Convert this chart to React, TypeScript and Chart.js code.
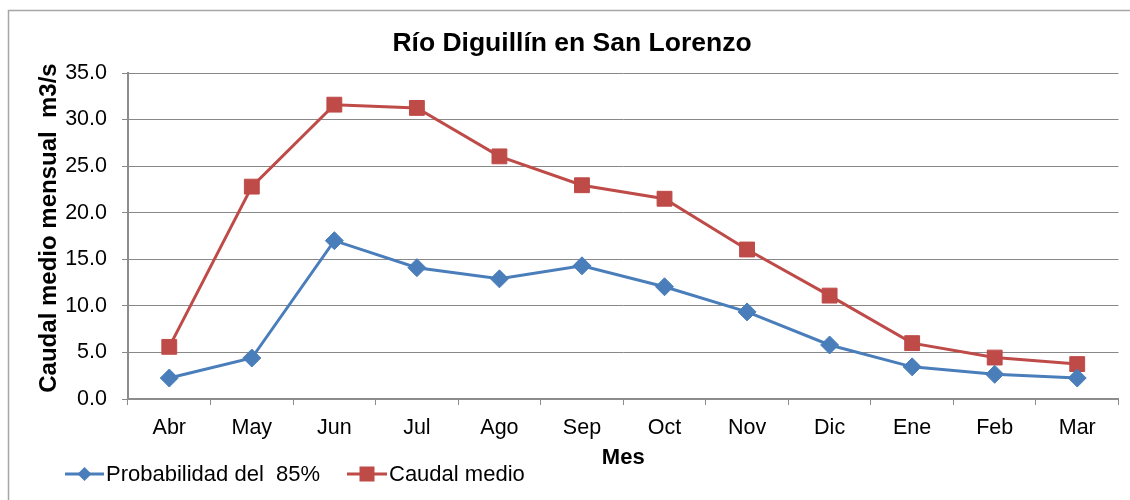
import React, { useEffect, useRef } from "react";
import { Chart, registerables } from "chart.js";

Chart.register(...registerables);

const categories = ["Abr", "May", "Jun", "Jul", "Ago", "Sep", "Oct", "Nov", "Dic", "Ene", "Feb", "Mar"];
const probabilidad85 = [2.25, 4.4, 17.0, 14.1, 12.9, 14.3, 12.05, 9.35, 5.8, 3.45, 2.65, 2.25];
const caudalMedio = [5.6, 22.8, 31.6, 31.25, 26.05, 22.95, 21.5, 16.05, 11.1, 6.0, 4.45, 3.75];
const yTicks = [0, 5, 10, 15, 20, 25, 30, 35];

const chartTitle = "Río Diguillín en San Lorenzo";
const yTitle = "Caudal medio mensual  m3/s";
const xTitle = "Mes";
const seriesNames = ["Probabilidad del  85%", "Caudal medio"];

const BLUE = "#4A7EBB";
const RED = "#BE4B48";
const FONT = "'Liberation Sans', Arial, sans-serif";

const decorPlugin = {
  id: "decor",
  afterDraw(chart: any) {
    const ctx = chart.ctx as CanvasRenderingContext2D;
    ctx.save();
    // outer frame
    ctx.strokeStyle = "#A6A6A6";
    ctx.lineWidth = 1.5;
    ctx.beginPath();
    ctx.moveTo(8.5, 600);
    ctx.lineTo(8.5, 10.5);
    ctx.lineTo(1200, 10.5);
    ctx.stroke();

    ctx.fillStyle = "#000";
    // title
    ctx.font = `bold 26.5px ${FONT}`;
    ctx.textAlign = "center";
    ctx.textBaseline = "alphabetic";
    ctx.fillText(chartTitle, 572, 51);

    // x title
    ctx.font = `bold 22px ${FONT}`;
    const ca = chart.chartArea;
    ctx.fillText(xTitle, (ca.left + ca.right) / 2, 464);

    // y title
    ctx.save();
    ctx.translate(56, (63 + 393) / 2);
    ctx.rotate(-Math.PI / 2);
    ctx.font = `bold 24px ${FONT}`;
    ctx.textAlign = "center";
    ctx.fillText(yTitle, 0, 0);
    ctx.restore();

    // legend
    const drawEntry = (x1: number, x2: number, color: string, shape: string, text: string) => {
      const y = 474;
      ctx.strokeStyle = color;
      ctx.lineWidth = 3;
      ctx.beginPath();
      ctx.moveTo(x1, y);
      ctx.lineTo(x2, y);
      ctx.stroke();
      ctx.fillStyle = color;
      const cx = (x1 + x2) / 2;
      ctx.beginPath();
      if (shape === "diamond") {
        const s = 7;
        ctx.moveTo(cx - s, y);
        ctx.lineTo(cx, y - s);
        ctx.lineTo(cx + s, y);
        ctx.lineTo(cx, y + s);
        ctx.closePath();
      } else {
        const s = 7.5;
        ctx.rect(cx - s, y - s, 2 * s, 2 * s);
      }
      ctx.fill();
      ctx.fillStyle = "#000";
      ctx.font = `22px ${FONT}`;
      ctx.textAlign = "left";
      ctx.fillText(text, x2 + 2, 481);
    };
    drawEntry(65, 104, BLUE, "diamond", seriesNames[0]);
    drawEntry(347, 387, RED, "square", seriesNames[1]);
    ctx.restore();
  },
};

export default function App() {
  const ref = useRef<HTMLCanvasElement | null>(null);
  useEffect(() => {
    if (!ref.current) return;
    const chart = new Chart(ref.current, {
      type: "line",
      data: {
        labels: categories,
        datasets: [
          {
            label: seriesNames[0],
            data: probabilidad85,
            borderColor: BLUE,
            backgroundColor: BLUE,
            borderWidth: 3,
            pointStyle: "rectRot",
            pointRadius: 9,
            pointBorderWidth: 1,
            pointBackgroundColor: BLUE,
            pointBorderColor: BLUE,
            tension: 0,
          },
          {
            label: seriesNames[1],
            data: caudalMedio,
            borderColor: RED,
            backgroundColor: RED,
            borderWidth: 3,
            pointStyle: "rect",
            pointRadius: 10.5,
            pointBorderWidth: 1,
            pointBackgroundColor: RED,
            pointBorderColor: RED,
            tension: 0,
          },
        ],
      },
      options: {
        responsive: false,
        animation: false,
        layout: { padding: { left: 0, right: 10, top: 73, bottom: 0 } },
        plugins: {
          legend: { display: false },
          title: { display: false },
          tooltip: { enabled: false },
        },
        scales: {
          x: {
            type: "category",
            offset: true,
            afterFit: (s: any) => {
              s.height = 101;
            },
            grid: {
              display: true,
              offset: true,
              drawOnChartArea: false,
              drawTicks: true,
              tickLength: 6,
              color: "#8C8C8C",
              lineWidth: 1,
            },
            border: { display: true, color: "#8C8C8C", width: 2 },
            ticks: {
              color: "#000",
              font: { family: FONT, size: 21.5 },
              padding: 10,
              maxRotation: 0,
              autoSkip: false,
            },
          },
          y: {
            min: 0,
            max: 35,
            afterFit: (s: any) => {
              s.width = 128;
            },
            afterBuildTicks: (s: any) => {
              s.ticks = yTicks.map((v) => ({ value: v }));
            },
            grid: {
              color: "#888888",
              lineWidth: 1,
              tickLength: 6,
              drawTicks: true,
            },
            border: { display: true, color: "#8C8C8C", width: 2 },
            ticks: {
              color: "#000",
              font: { family: FONT, size: 21.5 },
              padding: 15,
              callback: (v: any) => Number(v).toFixed(1),
            },
          },
        },
      },
      plugins: [decorPlugin],
    });
    return () => chart.destroy();
  }, []);
  return (
    <div style={{ position: "absolute", left: 0, top: 0, width: 1130, height: 500, background: "#fff" }}>
      <canvas ref={ref} width={1130} height={500} style={{ display: "block", width: 1130, height: 500 }} />
    </div>
  );
}
